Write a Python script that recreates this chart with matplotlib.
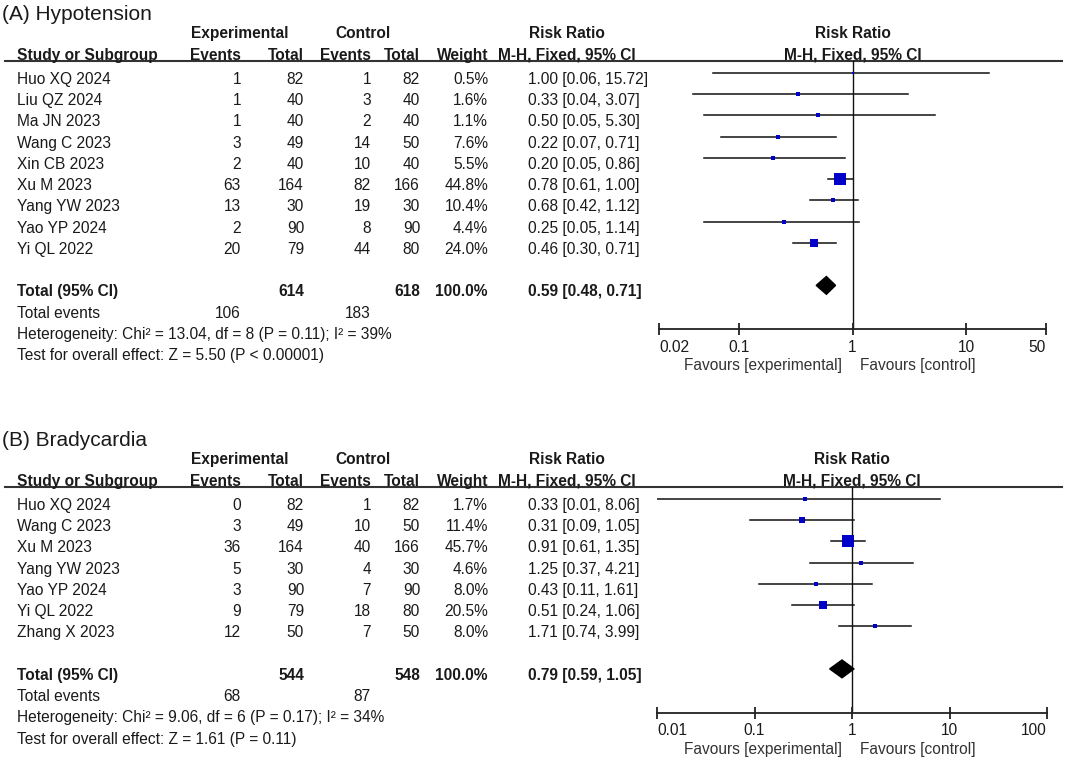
import numpy as np
import matplotlib
matplotlib.use('Agg')
import matplotlib.pyplot as plt
from matplotlib.transforms import blended_transform_factory
from matplotlib.patches import Polygon

plt.rcParams['font.family'] = ['Liberation Sans', 'DejaVu Sans']

# (A) Hypotension
studies_a = ['Huo XQ 2024', 'Liu QZ 2024', 'Ma JN 2023', 'Wang C 2023', 'Xin CB 2023',
             'Xu M 2023', 'Yang YW 2023', 'Yao YP 2024', 'Yi QL 2022']
exp_events_a = [1, 1, 1, 3, 2, 63, 13, 2, 20]
exp_total_a = [82, 40, 40, 49, 40, 164, 30, 90, 79]
ctl_events_a = [1, 3, 2, 14, 10, 82, 19, 8, 44]
ctl_total_a = [82, 40, 40, 50, 40, 166, 30, 90, 80]
weight_a = [0.5, 1.6, 1.1, 7.6, 5.5, 44.8, 10.4, 4.4, 24.0]
rr_a = [1.00, 0.33, 0.50, 0.22, 0.20, 0.78, 0.68, 0.25, 0.46]
lo_a = [0.06, 0.04, 0.05, 0.07, 0.05, 0.61, 0.42, 0.05, 0.30]
hi_a = [15.72, 3.07, 5.30, 0.71, 0.86, 1.00, 1.12, 1.14, 0.71]
pooled_a = [0.59, 0.48, 0.71]
sums_a = [614, 618, 106, 183]
het_a = 'Heterogeneity: Chi² = 13.04, df = 8 (P = 0.11); I² = 39%'
test_a = 'Test for overall effect: Z = 5.50 (P < 0.00001)'
ticks_a = [0.02, 0.1, 1, 10, 50]
ticklabels_a = ['0.02', '0.1', '1', '10', '50']

# (B) Bradycardia
studies_b = ['Huo XQ 2024', 'Wang C 2023', 'Xu M 2023', 'Yang YW 2023', 'Yao YP 2024',
             'Yi QL 2022', 'Zhang X 2023']
exp_events_b = [0, 3, 36, 5, 3, 9, 12]
exp_total_b = [82, 49, 164, 30, 90, 79, 50]
ctl_events_b = [1, 10, 40, 4, 7, 18, 7]
ctl_total_b = [82, 50, 166, 30, 90, 80, 50]
weight_b = [1.7, 11.4, 45.7, 4.6, 8.0, 20.5, 8.0]
rr_b = [0.33, 0.31, 0.91, 1.25, 0.43, 0.51, 1.71]
lo_b = [0.01, 0.09, 0.61, 0.37, 0.11, 0.24, 0.74]
hi_b = [8.06, 1.05, 1.35, 4.21, 1.61, 1.06, 3.99]
pooled_b = [0.79, 0.59, 1.05]
sums_b = [544, 548, 68, 87]
het_b = 'Heterogeneity: Chi² = 9.06, df = 6 (P = 0.17); I² = 34%'
test_b = 'Test for overall effect: Z = 1.61 (P = 0.11)'
ticks_b = [0.01, 0.1, 1, 10, 100]
ticklabels_b = ['0.01', '0.1', '1', '10', '100']

W, H = 1065, 761
fig = plt.figure(figsize=(W / 100, H / 100), dpi=100)
canvas = fig.add_axes([0, 0, 1, 1])
canvas.set_xlim(0, W)
canvas.set_ylim(H, 0)
canvas.axis('off')

FS = 11.2
TXT = '#1a1a1a'
BLUE = '#0000c8'


def draw_panel(title, top_px, x0_px, x1_px, xlim, ticks, ticklabels,
               studies, ee, et, ce, ct, wt, rr, lo, hi, pooled, sums, het, test):
    n = len(studies)
    row_px = 21.25
    ymin, ymax = -0.56, n + 3.07
    bottom_px = top_px + (ymax - ymin) * row_px
    fax = fig.add_axes([x0_px / W, 1 - bottom_px / H,
                        (x1_px - x0_px) / W, (bottom_px - top_px) / H])
    fax.set_xscale('log')
    fax.set_xlim(*xlim)
    fax.set_ylim(ymax, ymin)
    fax.patch.set_alpha(0)
    for s in ['top', 'left', 'right']:
        fax.spines[s].set_visible(False)
    fax.spines['bottom'].set_linewidth(1.3)
    fax.spines['bottom'].set_color('#222222')
    fax.set_yticks([])
    fax.set_xticks(ticks)
    labs = fax.set_xticklabels(ticklabels)
    # end labels stay inside the scale, like RevMan draws them
    labs[0].set_ha('left')
    labs[-1].set_ha('right')
    fax.minorticks_off()
    fax.tick_params(axis='x', direction='inout', length=9, width=1.3,
                    labelsize=FS, pad=3, colors='#222222', labelcolor=TXT)
    fax.axvline(1, color='#111111', lw=1.0, zorder=1)

    # study rows
    for i in range(n):
        fax.plot([lo[i], hi[i]], [i, i], color='#111111', lw=1.1, zorder=2)
        side = 2.8 + 9.2 * wt[i] / 44.8
        fax.plot(rr[i], i, marker='s', ms=side * 0.72, color=BLUE,
                 mec=BLUE, mew=0, zorder=3)
    # pooled diamond
    tr = n + 1
    dh = 0.42
    fax.add_patch(Polygon([[pooled[1], tr], [pooled[0], tr - dh],
                           [pooled[2], tr], [pooled[0], tr + dh]],
                          closed=True, color='black', zorder=3))

    tt = blended_transform_factory(canvas.transData, fax.transData)
    off = 0.52

    def put(x, y, s, ha='left', bold=False, **kw):
        canvas.text(x, y, s, transform=tt, ha=ha, va='baseline', fontsize=FS,
                    color=TXT, fontweight='bold' if bold else 'normal', **kw)

    canvas.text(2, -2.5, title, transform=tt, ha='left', va='baseline',
                fontsize=15, color=TXT)
    # headers
    put(240, -1.62, 'Experimental', ha='center', bold=True)
    put(363, -1.62, 'Control', ha='center', bold=True)
    put(567, -1.62, 'Risk Ratio', ha='center', bold=True)
    h2 = -0.61
    put(17, h2, 'Study or Subgroup', bold=True)
    put(241, h2, 'Events', ha='right', bold=True)
    put(304, h2, 'Total', ha='right', bold=True)
    put(371, h2, 'Events', ha='right', bold=True)
    put(420, h2, 'Total', ha='right', bold=True)
    put(488, h2, 'Weight', ha='right', bold=True)
    put(567, h2, 'M-H, Fixed, 95% CI', ha='center', bold=True)
    fax.text(1, -1.62, 'Risk Ratio', ha='center', va='baseline', fontsize=FS,
             fontweight='bold', color=TXT)
    fax.text(1, h2, 'M-H, Fixed, 95% CI', ha='center', va='baseline', fontsize=FS,
             fontweight='bold', color=TXT)
    canvas.plot([5, 1062], [ymin, ymin], transform=tt, color='#333333', lw=1.5)

    for i in range(n):
        y = i + off
        put(17, y, studies[i])
        put(241, y, str(ee[i]), ha='right')
        put(304, y, str(et[i]), ha='right')
        put(371, y, str(ce[i]), ha='right')
        put(420, y, str(ct[i]), ha='right')
        put(488, y, f'{wt[i]:.1f}%', ha='right')
        put(528, y, f'{rr[i]:.2f} [{lo[i]:.2f}, {hi[i]:.2f}]')

    y = tr + off
    put(17, y, 'Total (95% CI)', bold=True)
    put(304, y, str(sums[0]), ha='right', bold=True)
    put(420, y, str(sums[1]), ha='right', bold=True)
    put(488, y, '100.0%', ha='right', bold=True)
    put(528, y, f'{pooled[0]:.2f} [{pooled[1]:.2f}, {pooled[2]:.2f}]', bold=True)
    put(17, tr + 1 + off, 'Total events')
    put(241, tr + 1 + off, str(sums[2]), ha='right')
    put(371, tr + 1 + off, str(sums[3]), ha='right')
    put(17, tr + 2 + off, het)
    put(17, tr + 3 + off, test)

    fy = n + 4.78
    fax.annotate('Favours [experimental]', xy=(1, fy), xytext=(-10, 0),
                 textcoords='offset pixels', ha='right', va='center',
                 fontsize=FS, color='#333333', annotation_clip=False)
    fax.annotate('Favours [control]', xy=(1, fy), xytext=(8, 0),
                 textcoords='offset pixels', ha='left', va='center',
                 fontsize=FS, color='#333333', annotation_clip=False)


draw_panel('(A) Hypotension', 61, 659, 1046, (0.02, 50), ticks_a, ticklabels_a,
           studies_a, exp_events_a, exp_total_a, ctl_events_a, ctl_total_a,
           weight_a, rr_a, lo_a, hi_a, pooled_a, sums_a, het_a, test_a)
draw_panel('(B) Bradycardia', 487, 657, 1047, (0.01, 100), ticks_b, ticklabels_b,
           studies_b, exp_events_b, exp_total_b, ctl_events_b, ctl_total_b,
           weight_b, rr_b, lo_b, hi_b, pooled_b, sums_b, het_b, test_b)

fig.savefig('out.png', dpi=100, facecolor='white')
